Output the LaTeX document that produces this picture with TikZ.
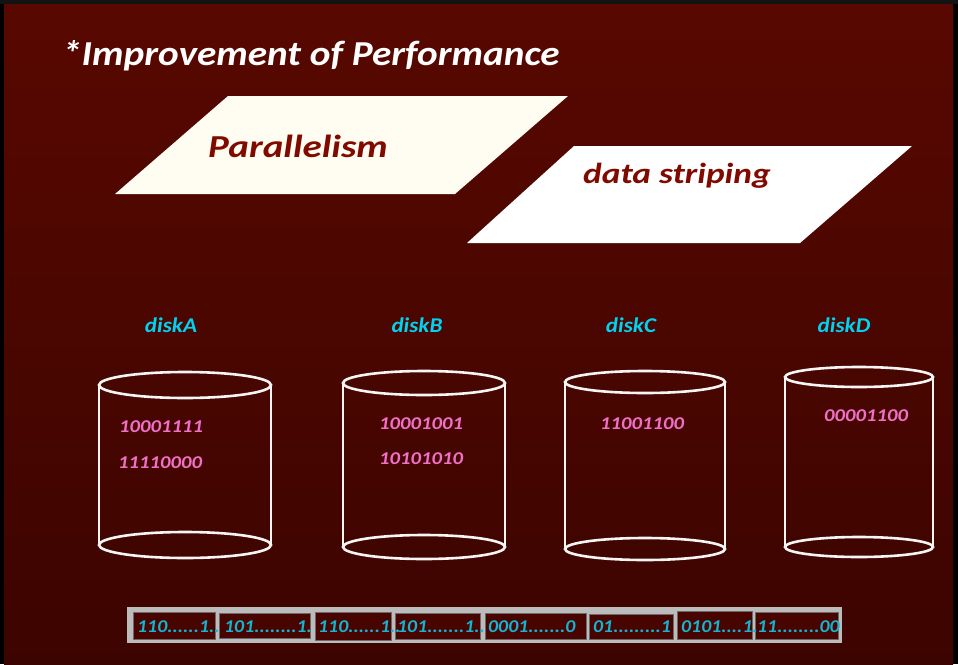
\documentclass[tikz,border=0pt]{standalone}
\usepackage{fontspec}
\setmainfont{Carlito}
\usepackage{graphicx}
\definecolor{bgtop}{RGB}{88,8,0}
\definecolor{bgbot}{RGB}{60,4,0}
\definecolor{edgebar}{RGB}{19,19,19}
\definecolor{labelred}{RGB}{128,10,0}
\definecolor{diskcyan}{RGB}{0,210,240}
\definecolor{bitpink}{RGB}{240,112,200}
\definecolor{stripcyan}{RGB}{20,180,210}
\definecolor{stripgray}{RGB}{188,188,188}
\definecolor{cellfill}{RGB}{72,5,0}
\definecolor{cellline}{RGB}{110,104,104}
\definecolor{cream}{RGB}{255,252,242}
\tikzset{
  drumline/.style={draw=white!92!gray, line width=2.6pt},
  disklabel/.style={anchor=base, text=diskcyan, font=\fontsize{21}{24}\selectfont\bfseries\itshape, inner sep=0pt},
  bits/.style={anchor=base, text=bitpink, font=\fontsize{18}{22}\selectfont\bfseries\itshape, inner sep=0pt},
  cell/.style={fill=cellfill, draw=cellline, line width=1pt},
  celltext/.style={anchor=base west, text=stripcyan, font=\fontsize{18}{22}\selectfont\bfseries\itshape, inner sep=0pt},
  slab/.style={inner sep=0pt}
}
% horizontally widened text
\newcommand\wide[2]{\scalebox{#1}[1]{#2}}
% cylinder: centre x, x radius, top y, bottom y, y radius
\newcommand\drum[5]{%
  \draw[drumline] (#1-#2,#3) -- (#1-#2,#4) (#1+#2,#3) -- (#1+#2,#4);
  \draw[drumline] (#1,#3) ellipse [x radius=#2, y radius=#5];
  \draw[drumline] (#1,#4) ellipse [x radius=#2, y radius=#5];
}
\begin{document}
\begin{tikzpicture}[x=1pt,y=-1pt]
\useasboundingbox (0,0) rectangle (958,664);
% frame and background
\fill[black] (0,0) rectangle (958,664);
\shade[top color=bgtop, bottom color=bgbot] (4,4) rectangle (953,664);
\fill[edgebar] (0,0) rectangle (958,4);

% heading
\node[slab, anchor=base west, text=white, font=\fontsize{35}{40}\selectfont\bfseries\itshape]
  (title) at (62,65) {\wide{1.12}{*Improvement of Performance}};

% parallelogram banners
\fill[cream] (228,96) -- (568,96) -- (455,194) -- (115,194) -- cycle;
\fill[white] (574,146) -- (912,146) -- (800,243) -- (467,243) -- cycle;
\node[slab, anchor=base west, text=labelred, font=\fontsize{32}{36}\selectfont\bfseries\itshape]
  (par) at (208,157) {\wide{1.22}{Parallelism}};
\node[slab, anchor=base west, text=labelred, font=\fontsize{29}{32}\selectfont\bfseries\itshape]
  (stripe) at (583,183) {\wide{1.22}{data striping}};

% disk names
\node[disklabel] (la) at (171,332) {\wide{1.1}{diskA}};
\node[disklabel] (lb) at (417,332) {\wide{1.1}{diskB}};
\node[disklabel] (lc) at (631,332) {\wide{1.1}{diskC}};
\node[disklabel] (ld) at (844,332) {\wide{1.1}{diskD}};

% disks
\drum{185}{86}{385}{545}{13}
\drum{424}{81}{383}{547}{12}
\drum{645}{80}{382}{549}{11}
\drum{859}{74}{377}{547}{10}

% stored bytes
\node[bits] (a1) at (161,432) {\wide{1.15}{10001111}};
\node[bits] (a2) at (160,468) {\wide{1.15}{11110000}};
\node[bits] (b1) at (421,429) {\wide{1.15}{10001001}};
\node[bits] (b2) at (421,464) {\wide{1.15}{10101010}};
\node[bits] (c1) at (642,429) {\wide{1.15}{11001100}};
\node[bits] (d1) at (866,421) {\wide{1.15}{00001100}};

% striped stream
\fill[stripgray] (127,607) rectangle (842,643);
\draw[cell] (133,612) rectangle (215,639);
\draw[cell] (219,613) rectangle (310,638);
\draw[cell] (315,612) rectangle (391,640);
\draw[cell] (395,613) rectangle (480,639);
\draw[cell] (485,613) rectangle (586,639);
\draw[cell] (589,614) rectangle (673,639);
\draw[cell] (677,611) rectangle (752,639);
\draw[cell] (755,612) rectangle (838,639);
\node[celltext] (s1) at (137,632) {\wide{1.1}{110......1..}};
\node[celltext] (s2) at (224,632) {\wide{1.1}{101........1.}};
\node[celltext] (s3) at (318,632) {\wide{1.1}{110......1..}};
\node[celltext] (s4) at (397,632) {\wide{1.1}{101.......1..}};
\node[celltext] (s5) at (488,632) {\wide{1.1}{0001.......0}};
\node[celltext] (s6) at (593,632) {\wide{1.1}{01.........1}};
\node[celltext] (s7) at (681,632) {\wide{1.1}{0101....1.}};
\node[celltext] (s8) at (757,632) {\wide{1.1}{11........00}};
\end{tikzpicture}
\end{document}
